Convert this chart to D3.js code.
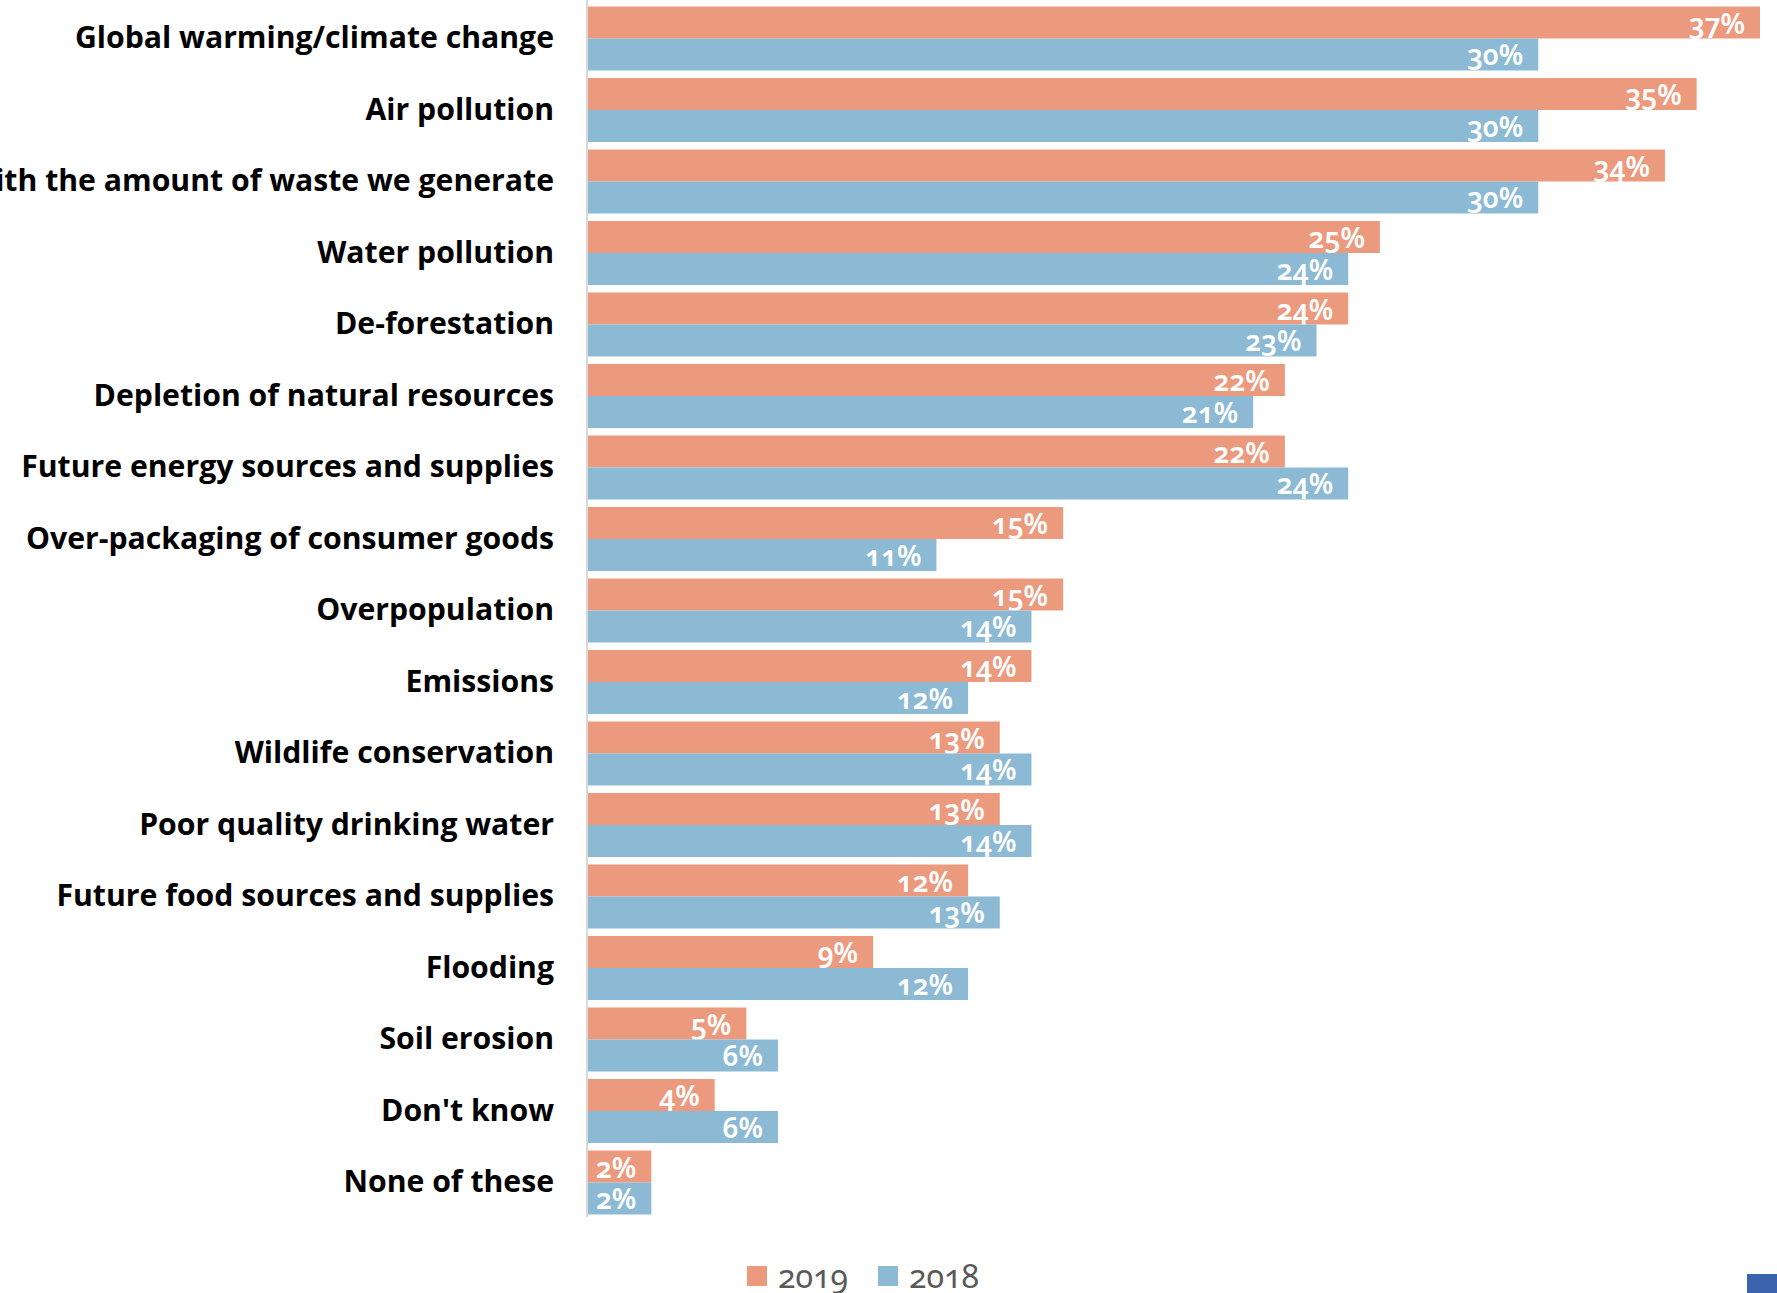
<!DOCTYPE html>
<html>
<head>
<meta charset="utf-8">
<script src="https://cdn.jsdelivr.net/npm/d3@7"></script>
<style>
  html, body { margin: 0; padding: 0; background: #fff; }
  svg { display: block; }
  .cat text { font-family: "Open Sans", "Noto Sans", sans-serif; font-weight: 700; fill: #000; }
  .val { font-family: "Noto Sans", sans-serif; font-weight: 600; font-variant-numeric: oldstyle-nums; font-feature-settings: "onum" 1; fill: #fff; }
  .leg { font-family: "Noto Sans", sans-serif; font-variant-numeric: oldstyle-nums; font-feature-settings: "onum" 1; fill: #595959; }
</style>
</head>
<body>
<script>
const categories = [
  "Global warming/climate change",
  "Air pollution",
  "Dealing with the amount of waste we generate",
  "Water pollution",
  "De-forestation",
  "Depletion of natural resources",
  "Future energy sources and supplies",
  "Over-packaging of consumer goods",
  "Overpopulation",
  "Emissions",
  "Wildlife conservation",
  "Poor quality drinking water",
  "Future food sources and supplies",
  "Flooding",
  "Soil erosion",
  "Don't know",
  "None of these"
];
const seriesNames = ["2019", "2018"];
const values2019 = [37, 35, 34, 25, 24, 22, 22, 15, 15, 14, 13, 13, 12, 9, 5, 4, 2];
const values2018 = [30, 30, 30, 24, 23, 21, 24, 11, 14, 12, 14, 14, 13, 12, 6, 6, 2];
const colors = ["#EC9A7E", "#8CBAD5"];

const W = 1777, H = 1293;
const svg = d3.select("body").append("svg").attr("width", W).attr("height", H);

const x = d3.scaleLinear().domain([0, 37]).range([588, 1760]);
const y = d3.scaleBand().domain(categories).range([2.75, 1218.25])
  .paddingInner(0.105).paddingOuter(0.0525);
const ySub = d3.scaleBand().domain(seriesNames).range([0, y.bandwidth()]);

const rows = categories.map((c, i) => ({ cat: c, vals: [values2019[i], values2018[i]] }));

const g = svg.append("g");
const grp = g.selectAll("g.row").data(rows).join("g").attr("class", "row")
  .attr("transform", d => `translate(0,${y(d.cat)})`);

const cells = grp.selectAll("g.cell")
  .data(d => d.vals.map((v, k) => ({ v, s: seriesNames[k], k })))
  .join("g").attr("class", "cell");

cells.append("rect")
  .attr("x", x(0))
  .attr("y", d => ySub(d.s))
  .attr("width", d => x(d.v) - x(0))
  .attr("height", ySub.bandwidth())
  .attr("fill", d => colors[d.k]);

cells.append("text").attr("class", "val")
  .attr("x", d => x(d.v) - 15)
  .attr("y", d => ySub(d.s) + ySub.bandwidth() - 5)
  .attr("text-anchor", "end")
  .attr("font-size", 28)
  .text(d => d.v + "%");

// axis with category labels
const axis = svg.append("g").attr("class", "cat")
  .attr("transform", `translate(${x(0) - 1},0)`)
  .call(d3.axisLeft(y).tickSize(0).tickPadding(33));
axis.select(".domain").attr("stroke", "#d9d9d9").attr("stroke-width", 2)
  .attr("d", `M0,0V1217`);
axis.selectAll(".tick text").attr("font-size", 30.2).attr("fill", "#000");

// legend
const legend = svg.append("g");
const legX = [747, 878];
seriesNames.forEach((s, k) => {
  legend.append("rect").attr("x", legX[k]).attr("y", 1266).attr("width", 20).attr("height", 20)
    .attr("fill", colors[k]);
  legend.append("text").attr("class", "leg").attr("x", legX[k] + 31).attr("y", 1288)
    .attr("font-size", 32).text(s);
});

// corner marker
svg.append("rect").attr("x", 1747).attr("y", 1274).attr("width", 30).attr("height", 19).attr("fill", "#3A64AD");
</script>
</body>
</html>
